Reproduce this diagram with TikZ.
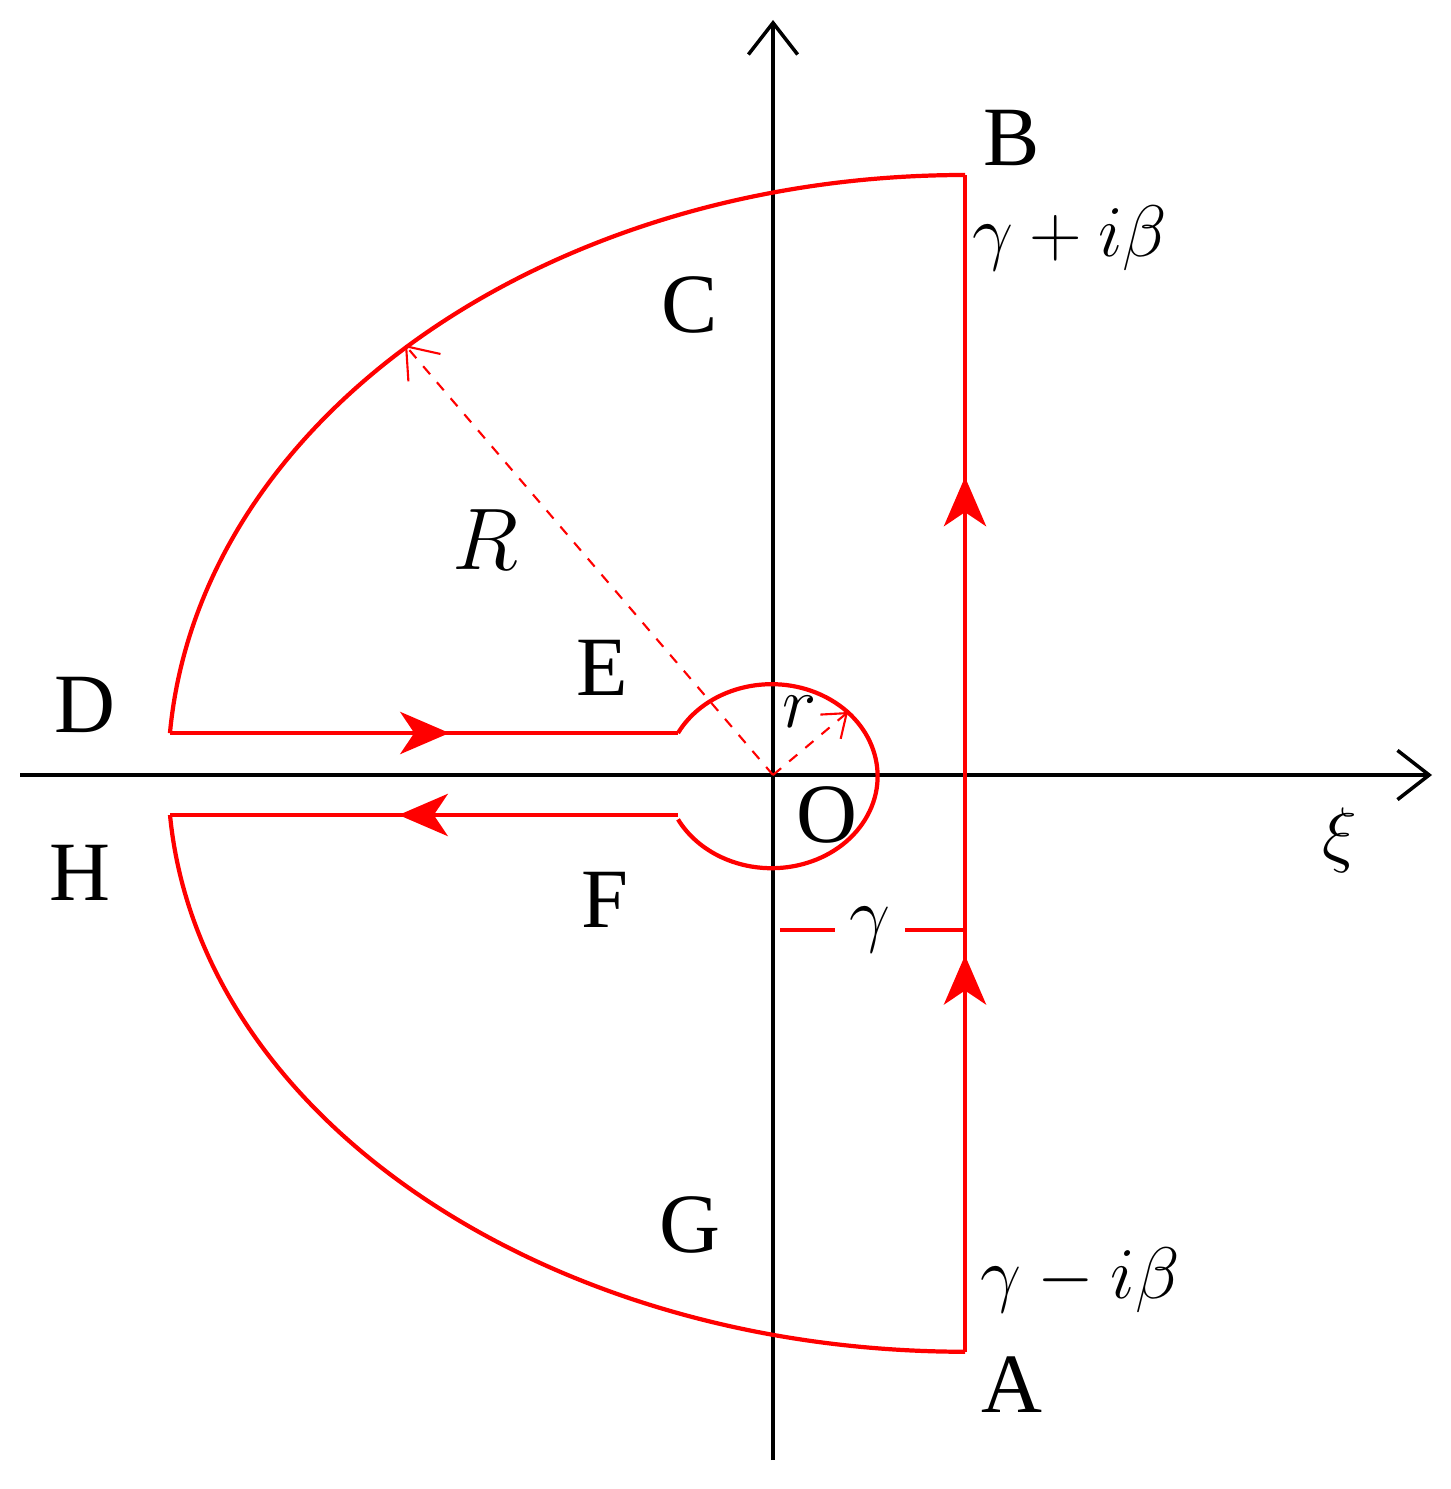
\documentclass[tikz,border=0pt]{standalone}
\usepackage{fontspec}
\setmainfont{Liberation Serif}
\usetikzlibrary{arrows.meta,decorations.markings}
\begin{document}
\begin{tikzpicture}[x=0.01cm,y=-0.01cm,
  ax/.style={line width=1pt,-{Straight Barb[length=9pt,width=14pt,line width=1pt]}},
  rd/.style={red,line width=1.2pt},
  lbl/.style={font=\fontsize{24}{28}\selectfont},
  ml/.style={font=\fontsize{20}{24}\selectfont},
  mk/.style={postaction={decorate},decoration={markings,mark=at position #1 with {\arrow{Stealth[length=14pt,width=12pt,inset=4pt]}}}},
  dsh/.style={red,dashed,line width=0.6pt}]
\useasboundingbox (0,0) rectangle (1450,1489);
\coordinate (O) at (773,775);
\coordinate (Ap) at (965,1352);
\coordinate (Bp) at (965,175);
\coordinate (Dp) at (170,733);
\coordinate (Hp) at (170,815);
\coordinate (Ej) at (678,733);
\coordinate (Fj) at (678,815);
\coordinate (Rt) at (405,345);
\coordinate (rt) at (848,712);
\draw[ax] (20,775) -- (1432,775);
\draw[ax] (773,1460) -- (773,20);
% contour
\draw[rd,mk=0.94] (Ap) -- (965,930);
\draw[rd,mk=0.6] (965,930) -- (Bp);
\draw[rd] (Bp) arc[start angle=90,end angle=176,x radius=797,y radius=-600];
\draw[rd,mk=0.55] (Dp) -- (Ej);
\draw[rd] (Ej) arc[start angle=152,end angle=-152,x radius=106,y radius=-92];
\draw[rd,mk=0.55] (Fj) -- (Hp);
\draw[rd] (Hp) arc[start angle=184,end angle=270,x radius=797,y radius=-577];
% radii
\draw[dsh,-{Straight Barb[length=8pt,width=12pt]}] (O) -- (Rt);
\draw[dsh,-{Straight Barb[length=6pt,width=9pt]}] (O) -- (rt);
% gamma
\node[ml] (g) at (870,930) {$\gamma$};
\draw[red,line width=1pt] (780,930) -- (835,930);
\draw[red,line width=1pt] (905,930) -- (965,930);
% labels
\node[lbl] (B) at (1012,138) {B};
\node[ml] (gb) at (1070,238) {$\gamma+i\beta$};
\node[lbl] (C) at (690,305) {C};
\node[lbl] (R) at (485,540) {$R$};
\node[lbl] (E) at (602,668) {E};
\node[lbl] (D) at (85,705) {D};
\node[ml] (r) at (800,712) {$r$};
\node[lbl] (Ol) at (827,815) {O};
\node[ml] (xi) at (1340,840) {$\xi$};
\node[lbl] (H) at (80,873) {H};
\node[lbl] (F) at (605,900) {F};
\node[lbl] (G) at (690,1225) {G};
\node[ml] (gm) at (1080,1280) {$\gamma-i\beta$};
\node[lbl] (A) at (1012,1385) {A};
\end{tikzpicture}
\end{document}
